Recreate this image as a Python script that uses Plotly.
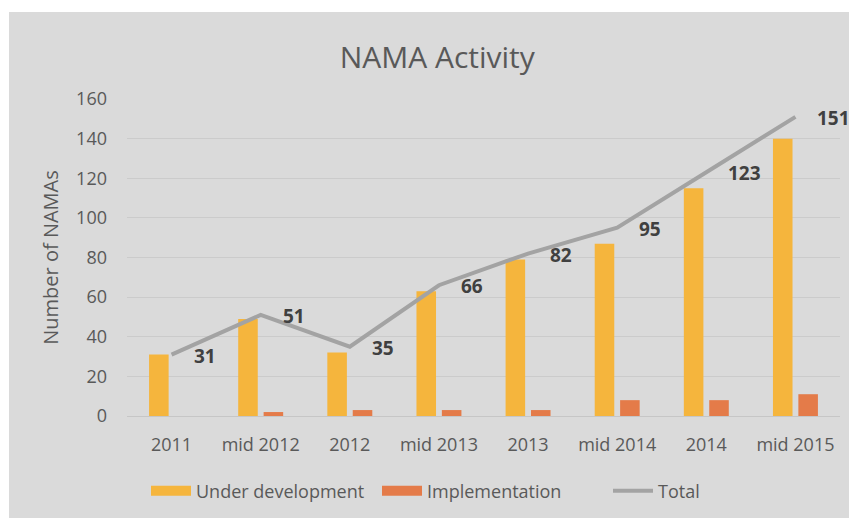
import plotly.graph_objects as go

categories = ["2011", "mid 2012", "2012", "mid 2013", "2013", "mid 2014", "2014", "mid 2015"]
under_development = [31, 49, 32, 63, 79, 87, 115, 140]
implementation = [0, 2, 3, 3, 3, 8, 8, 11]
total = [31, 51, 35, 66, 82, 95, 123, 151]
y_ticks = [0, 20, 40, 60, 80, 100, 120, 140, 160]

BG = "#dadada"
FONT = "Open Sans"
YELLOW = "#f5b53d"
ORANGE = "#e47b49"
GREY = "#a3a3a3"

pos = list(range(len(categories)))

fig = go.Figure()
fig.add_trace(go.Bar(x=pos, y=under_development, name="Under development",
                     marker=dict(color=YELLOW, line=dict(width=0)), showlegend=False))
fig.add_trace(go.Bar(x=pos, y=implementation, name="Implementation",
                     marker=dict(color=ORANGE, line=dict(width=0)), showlegend=False))
fig.add_trace(go.Scatter(x=pos, y=total, name="Total", mode="lines",
                         line=dict(color=GREY, width=4), showlegend=False))

# legend entries (wide swatches like the original)
for name, color, w in [("Under development", YELLOW, 12), ("Implementation", ORANGE, 12), ("Total", GREY, 4)]:
    fig.add_trace(go.Scatter(x=[None], y=[None], mode="lines", name=name,
                             line=dict(color=color, width=w), showlegend=True))

for p, v in zip(pos, total):
    fig.add_annotation(x=p, y=v, text=str(v), showarrow=False, xanchor="left",
                       xshift=20, yshift=-1,
                       font=dict(family=FONT, size=19, color="#404040", weight="bold"))

# white border strips (top and left)
fig.add_shape(type="rect", xref="paper", yref="paper", x0=-1, x1=2, y0=1.2744, y1=2,
              fillcolor="white", line=dict(width=0), layer="below")
fig.add_shape(type="rect", xref="paper", yref="paper", x0=-1, x1=-0.1655, y0=-1, y1=2,
              fillcolor="white", line=dict(width=0), layer="below")

fig.update_layout(
    width=849, height=518,
    margin=dict(l=127, r=9, t=99, b=102, autoexpand=False),
    paper_bgcolor=BG, plot_bgcolor=BG,
    barmode="group", bargap=0.43, bargroupgap=0.23,
    font=dict(family=FONT, color="#595959", size=18),
    title=dict(text="NAMA Activity", x=0.515, xanchor="center", y=1 - 57 / 518, yanchor="middle",
               font=dict(family=FONT, size=30, color="#595959")),
    showlegend=True,
    legend=dict(orientation="h", xref="container", yref="container", x=146 / 849, xanchor="left",
                y=1 - 491 / 518, yanchor="middle", font=dict(size=18, color="#595959"),
                bgcolor="rgba(0,0,0,0)", tracegroupgap=0, itemwidth=40,
                entrywidth=176, entrywidthmode="pixels"),
    xaxis=dict(range=[-0.5, len(categories) - 0.5], tickvals=pos, ticktext=categories,
               showgrid=False, zeroline=False, ticklabelstandoff=12, tickfont=dict(size=18),
               showline=True, linecolor="#c6c6c6", linewidth=1),
    yaxis=dict(range=[0, 160], tickvals=y_ticks, gridcolor="#cbcbcb", gridwidth=1,
               zeroline=False, ticklabelstandoff=19, tickfont=dict(size=18),
               title=dict(text="Number of NAMAs", font=dict(size=20, color="#595959"), standoff=12)),
)

fig.write_html("out.html", config={"displayModeBar": False},
               post_script="document.body.style.margin='0px';")
